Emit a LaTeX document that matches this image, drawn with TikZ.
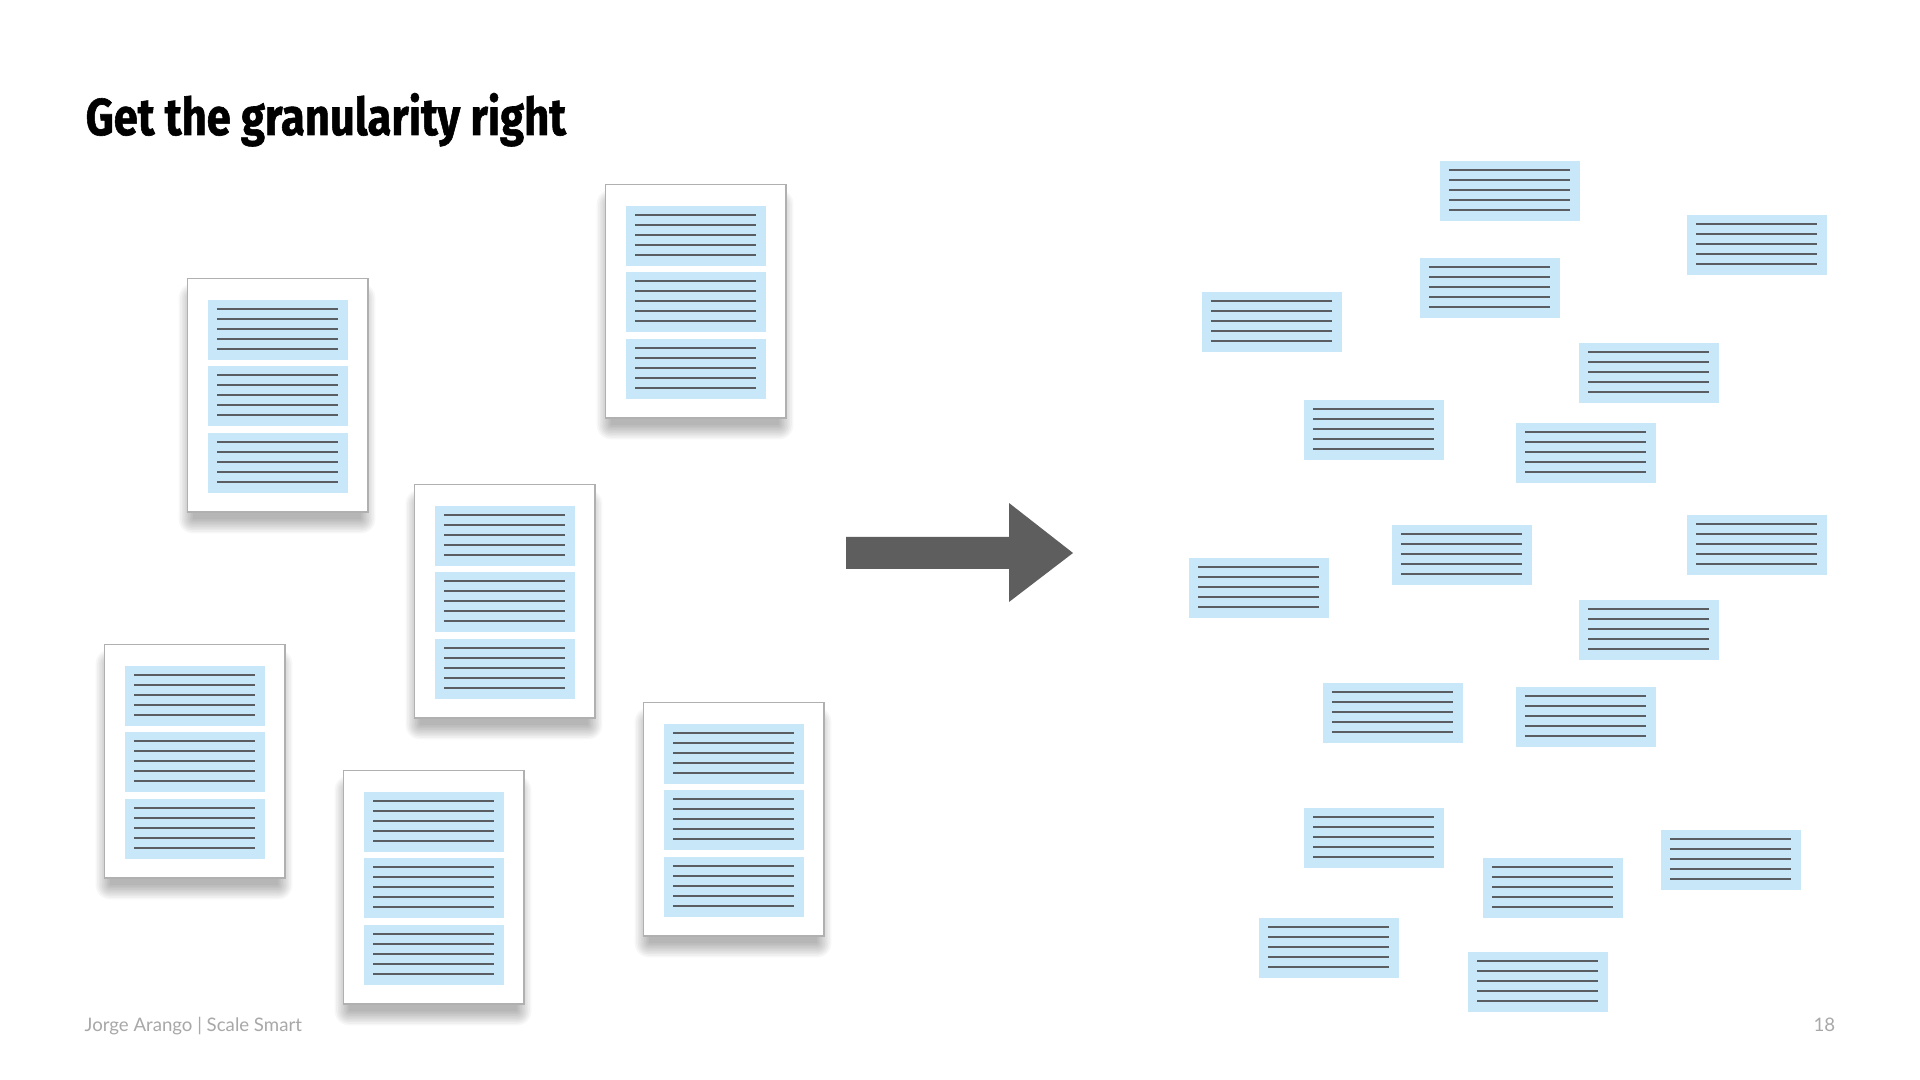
\documentclass[tikz,border=0pt]{standalone}
\usepackage{fontspec}
\setmainfont{Lato}
\newfontfamily\titlefont{Fira Sans}[FakeBold=1.2]
\usetikzlibrary{calc}
\definecolor{cardblue}{HTML}{C8E8FA}
\definecolor{linegray}{HTML}{5A5D62}
\definecolor{arrowgray}{HTML}{5E5E5E}
\definecolor{footgray}{HTML}{A8A8A8}
\definecolor{pageedge}{HTML}{B0B0B0}
\tikzset{
  page/.style={draw=pageedge, line width=0.4pt, fill=white, inner sep=0pt,
    minimum width=1.8cm, minimum height=2.33cm, anchor=north west},
  shadowlayer/.style={fill=black, opacity=0.032},
  card/.style={fill=cardblue, inner sep=0pt, minimum width=1.4cm,
    minimum height=0.6cm, anchor=north west},
  textline/.style={draw=linegray, line width=0.7pt},
  footer/.style={text=footgray, inner sep=0pt, font=\fontsize{5.3pt}{6.5pt}\selectfont}
}
\newcommand\cardlines[1]{%
  \foreach \k in {1,...,5}
    \draw[textline] ($(#1.north west)+(10,10*\k)$) -- ($(#1.north east)+(-10,10*\k)$);
}
\begin{document}
\begin{tikzpicture}[x=0.01cm, y=-0.01cm]
  \useasboundingbox[fill=white] (0,0) rectangle (1920,1080);
  \node[anchor=base west, inner sep=0pt] (title) at (85,135)
    {\resizebox{4.8cm}{0.42cm}{\titlefont\bfseries Get the granularity right}};
  % pages with three blocks each
  \foreach \n/\x/\y in {1/187/278, 2/605/184, 3/414/484, 4/104/644, 5/343/770, 6/643/702}{
    \foreach \k in {0,...,9}
      \path[shadowlayer, rounded corners=\k*0.45pt]
        (\x+6-\k*1.6,\y+20-\k*1.6) rectangle (\x+174+\k*1.6,\y+241+\k*1.6);
    \node[page] (p\n) at (\x,\y) {};
    \foreach \c/\dy in {a/21, b/87, c/154}{
      \node[card] (p\n\c) at ($(p\n.north west)+(20,\dy)$) {};
      \cardlines{p\n\c}
    }
  }
  \fill[arrowgray] (846,537) -- (1009,537) -- (1009,503) -- (1073,553)
    -- (1009,602) -- (1009,569) -- (846,569) -- cycle;
  % loose blocks
  \foreach \x/\y [count=\n] in {1439/160, 1686/214, 1419/257, 1201/291, 1578/342,
      1303/399, 1515/422, 1391/524, 1686/514, 1188/557, 1578/599, 1322/682,
      1515/686, 1303/807, 1660/829, 1482/857, 1258/917, 1467/951}{
    \node[card] (c\n) at (\x,\y) {};
    \cardlines{c\n}
  }
  \node[footer, anchor=base west] (author) at (84,1032) {Jorge Arango | Scale Smart};
  \node[footer, anchor=base east] (pagenum) at (1836,1032) {18};
\end{tikzpicture}
\end{document}
